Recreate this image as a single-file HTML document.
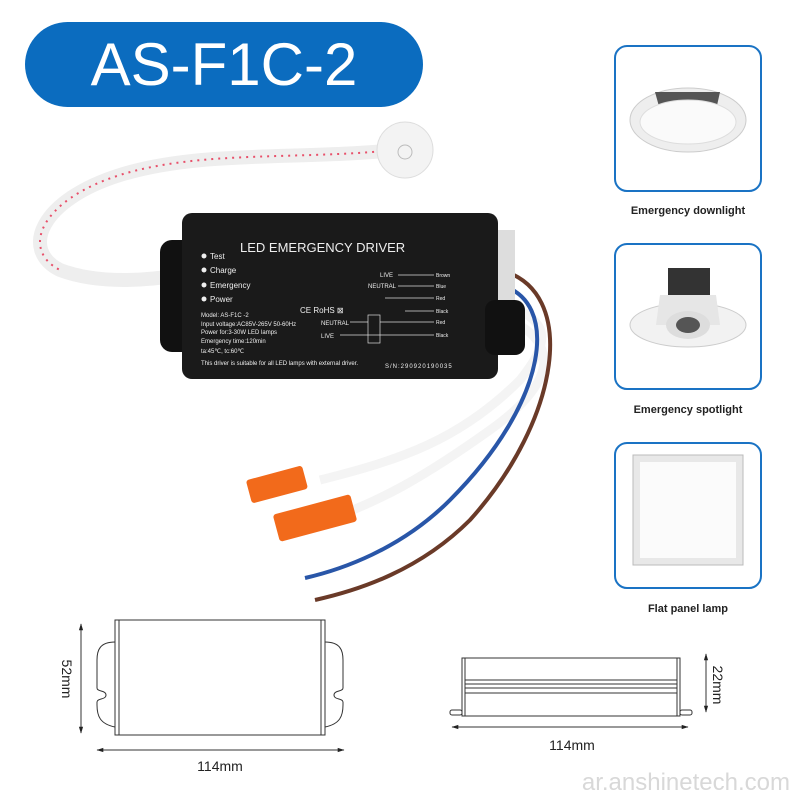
<!DOCTYPE html>
<html><head><meta charset="utf-8"><style>
body{margin:0;background:#fff;}
.wrap{position:relative;width:800px;height:800px;overflow:hidden;font-family:"Liberation Sans",sans-serif;}
.pill{position:absolute;left:25px;top:22px;width:398px;height:85px;border-radius:43px;background:#0b6cbf;color:#fff;font-size:60px;text-align:center;line-height:85px;}
.card{position:absolute;left:614px;width:144px;height:143px;border:2px solid #1a73c4;border-radius:13px;background:#fff;}
.lab{position:absolute;left:600px;width:176px;text-align:center;font-size:11px;font-weight:bold;color:#222;}
</style></head><body><div class="wrap">
<div class="pill">AS-F1C-2</div>

<div class="card" style="top:45px"></div>
<div class="card" style="top:243px"></div>
<div class="card" style="top:442px"></div>
<div class="lab" style="top:205px">Emergency downlight</div>
<div class="lab" style="top:404px">Emergency spotlight</div>
<div class="lab" style="top:603px">Flat panel lamp</div>

<svg width="800" height="800" style="position:absolute;left:0;top:0">
<defs><marker id="a" viewBox="0 0 10 10" refX="9" refY="5" markerWidth="7" markerHeight="7" orient="auto-start-reverse"><path d="M0 2 L10 5 L0 8Z" fill="#222"/></marker></defs>
<!-- downlight -->
<ellipse cx="688" cy="120" rx="58" ry="32" fill="#eee" stroke="#ccc"/>
<path d="M655 92 L720 92 L716 110 L660 110Z" fill="#555"/>
<ellipse cx="688" cy="122" rx="48" ry="22" fill="#fafafa" stroke="#ddd"/>
<!-- spotlight -->
<rect x="668" y="268" width="42" height="28" fill="#333"/>
<ellipse cx="688" cy="325" rx="58" ry="22" fill="#f2f2f2" stroke="#ccc"/>
<path d="M660 295 L716 295 L720 325 L656 325Z" fill="#e6e6e6"/>
<ellipse cx="688" cy="325" rx="22" ry="14" fill="#ddd"/>
<ellipse cx="688" cy="325" rx="12" ry="8" fill="#555"/>
<!-- panel -->
<rect x="633" y="455" width="110" height="110" fill="#e8e8e8" stroke="#bbb"/>
<rect x="640" y="462" width="96" height="96" fill="#fbfbfb"/>

<!-- cables -->
<path d="M395 150 C300 160 200 150 120 175 C40 200 20 250 60 270 C100 285 150 280 180 275" stroke="#eee" stroke-width="14" fill="none"/>
<path d="M395 150 C300 160 200 150 120 175 C40 200 20 250 60 270" stroke="#e8506a" stroke-width="2" stroke-dasharray="2 5" fill="none"/>
<path d="M500 300 C540 320 560 330 520 380 C460 440 400 460 320 480" stroke="#f4f4f4" stroke-width="9" fill="none"/>
<path d="M500 315 C560 340 560 380 490 430 C420 480 380 500 340 515" stroke="#f4f4f4" stroke-width="9" fill="none"/>
<path d="M500 285 C560 300 550 400 450 500 C400 550 340 570 305 578" stroke="#2956a8" stroke-width="4" fill="none"/>
<path d="M500 270 C580 290 560 420 470 520 C420 570 360 590 315 600" stroke="#6a3a28" stroke-width="4" fill="none"/>
<g transform="rotate(-15 275 485)"><rect x="248" y="473" width="58" height="24" rx="3" fill="#f26a1b"/></g>
<g transform="rotate(-15 315 518)"><rect x="275" y="504" width="80" height="28" rx="3" fill="#f26a1b"/></g>
<circle cx="405" cy="150" r="28" fill="#f3f3f3" stroke="#ddd"/>
<circle cx="405" cy="152" r="7" fill="none" stroke="#bbb"/>

<!-- driver body -->
<rect x="160" y="240" width="40" height="112" rx="12" fill="#111"/>
<rect x="485" y="230" width="30" height="70" fill="#ddd"/>
<rect x="182" y="213" width="316" height="166" rx="10" fill="#1a1a1a"/>
<rect x="485" y="300" width="40" height="55" rx="10" fill="#111"/>
<g fill="#eee" font-family="Liberation Sans" >
<text x="240" y="252" font-size="13">LED EMERGENCY DRIVER</text>
<g font-size="8"><circle cx="204" cy="256" r="2.5"/><text x="210" y="259">Test</text>
<circle cx="204" cy="270" r="2.5"/><text x="210" y="273">Charge</text>
<circle cx="204" cy="285" r="2.5"/><text x="210" y="288">Emergency</text>
<circle cx="204" cy="299" r="2.5"/><text x="210" y="302">Power</text></g>
<g font-size="6"><text x="201" y="317">Model: AS-F1C -2</text>
<text x="201" y="326">Input voltage:AC85V-265V 50-60Hz</text>
<text x="201" y="334">Power for:3-30W LED lamps</text>
<text x="201" y="343">Emergency time:120min</text>
<text x="201" y="353">ta:45℃,  tc:60℃</text>
<text x="201" y="365">This driver is suitable for all LED lamps with external driver.</text>
<text x="385" y="368" letter-spacing="1">S/N:290920190035</text>
<text x="380" y="277">LIVE</text><text x="368" y="288">NEUTRAL</text>
<text x="436" y="277" font-size="5">Brown</text><text x="436" y="288" font-size="5">Blue</text>
<text x="436" y="300" font-size="5">Red</text><text x="436" y="313" font-size="5">Black</text>
<text x="321" y="325">NEUTRAL</text><text x="321" y="338">LIVE</text>
<text x="436" y="324" font-size="5">Red</text><text x="436" y="337" font-size="5">Black</text>
<text x="300" y="313" font-size="8">CE RoHS ⊠</text></g>
</g>
<g stroke="#ddd" stroke-width="0.7"><line x1="398" y1="275" x2="434" y2="275"/><line x1="398" y1="286" x2="434" y2="286"/>
<line x1="350" y1="322" x2="368" y2="322"/><line x1="380" y1="322" x2="434" y2="322"/><line x1="340" y1="335" x2="434" y2="335"/>
<line x1="385" y1="298" x2="434" y2="298"/><line x1="405" y1="311" x2="434" y2="311"/></g>
<rect x="368" y="315" width="12" height="28" fill="none" stroke="#ddd" stroke-width="0.7"/>

<!-- left drawing -->
<g stroke="#333" stroke-width="1" fill="none">
<rect x="115" y="620" width="210" height="115"/>
<line x1="119" y1="620" x2="119" y2="735"/><line x1="321" y1="620" x2="321" y2="735"/>
<path d="M115 642 C100 642 97 650 97 660 L97 688 C97 692 106 690 106 695 C106 700 97 698 97 702 L97 705 C97 716 100 724 115 727"/>
<path d="M325 642 C340 642 343 650 343 660 L343 688 C343 692 334 690 334 695 C334 700 343 698 343 702 L343 705 C343 716 340 724 325 727"/>
<line x1="81" y1="624" x2="81" y2="733" marker-start="url(#a)" marker-end="url(#a)"/>
<line x1="97" y1="750" x2="344" y2="750" marker-start="url(#a)" marker-end="url(#a)"/>
<rect x="462" y="658" width="218" height="58"/>
<line x1="465" y1="658" x2="465" y2="716"/><line x1="677" y1="658" x2="677" y2="716"/>
<line x1="465" y1="680" x2="677" y2="680"/><line x1="465" y1="684" x2="677" y2="684"/><line x1="465" y1="688" x2="677" y2="688"/><line x1="465" y1="693" x2="677" y2="693"/>
<rect x="450" y="710" width="12" height="5" rx="2"/><rect x="680" y="710" width="12" height="5" rx="2"/>
<line x1="706" y1="654" x2="706" y2="712" marker-start="url(#a)" marker-end="url(#a)"/>
<line x1="452" y1="727" x2="688" y2="727" marker-start="url(#a)" marker-end="url(#a)"/>
</g>
<g font-family="Liberation Sans" font-size="14" fill="#222">
<text x="220" y="771" text-anchor="middle">114mm</text>
<text x="572" y="750" text-anchor="middle">114mm</text>
<text transform="translate(62 679) rotate(90)" text-anchor="middle">52mm</text>
<text transform="translate(713 685) rotate(90)" text-anchor="middle">22mm</text>
</g>
<text x="790" y="790" text-anchor="end" font-family="Liberation Sans" font-size="24" fill="#d8d8d8">ar.anshinetech.com</text>
</svg>
</div></body></html>
